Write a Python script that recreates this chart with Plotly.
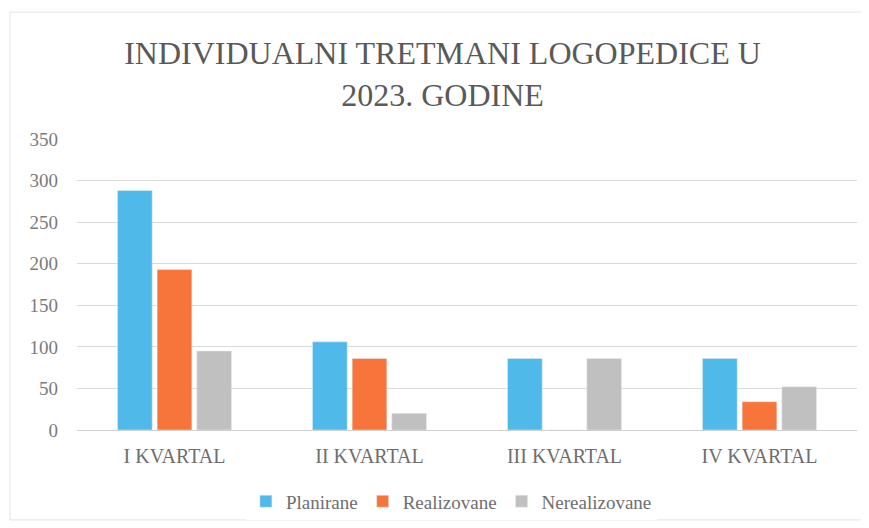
import plotly.graph_objects as go

kvartali = ["I KVARTAL", "II KVARTAL", "III KVARTAL", "IV KVARTAL"]
planirane = [288, 106, 86, 86]
realizovane = [193, 86, 0, 34]
nerealizovane = [95, 20, 86, 52]

fig = go.Figure()
fig.add_bar(x=kvartali, y=planirane, name="Planirane", marker_color="#4FB9EA")
fig.add_bar(x=kvartali, y=realizovane, name="Realizovane", marker_color="#F7743B")
fig.add_bar(x=kvartali, y=nerealizovane, name="Nerealizovane", marker_color="#C0C0C0")

serif = "Liberation Serif"

# plot area in figure px: x 69..849, y 131..422 (page adds ~8px body offset)
fig.update_layout(
    width=869, height=528,
    paper_bgcolor="white", plot_bgcolor="white",
    font=dict(family=serif, color="#6E6E6E"),
    title=dict(text="INDIVIDUALNI TRETMANI LOGOPEDICE U<br>2023. GODINE",
               x=0.5, xanchor="center", y=1 - 56 / 528, yanchor="top",
               font=dict(family=serif, size=32, color="#595959")),
    margin=dict(l=69, r=20, t=131, b=106),
    barmode="group", bargap=0.39, bargroupgap=0.125,
    legend=dict(orientation="h", x=0.48, xanchor="center", y=-0.18, yanchor="top",
                font=dict(family=serif, size=19, color="#6E6E6E"),
                itemwidth=30, traceorder="normal"),
    showlegend=True,
)
fig.update_xaxes(showgrid=False, showline=False, ticks="", ticklabelstandoff=12,
                 tickfont=dict(family=serif, size=20, color="#6E6E6E"))
fig.update_yaxes(range=[0, 350], dtick=50, showgrid=True, gridcolor="#DADADA", gridwidth=1,
                 zeroline=True, zerolinecolor="#D0D0D0", zerolinewidth=1,
                 showline=False, ticks="", ticklabelstandoff=18,
                 tickfont=dict(family=serif, size=19, color="#7A7A7A"))

# faint outer border of the chart frame
fig.add_shape(type="rect", xref="paper", yref="paper",
              x0=-0.0859, x1=1.0103, y0=-0.309, y1=1.436,
              line=dict(color="#E4E4E4", width=1), fillcolor="rgba(0,0,0,0)", layer="below")

fig.write_html("out.html")
